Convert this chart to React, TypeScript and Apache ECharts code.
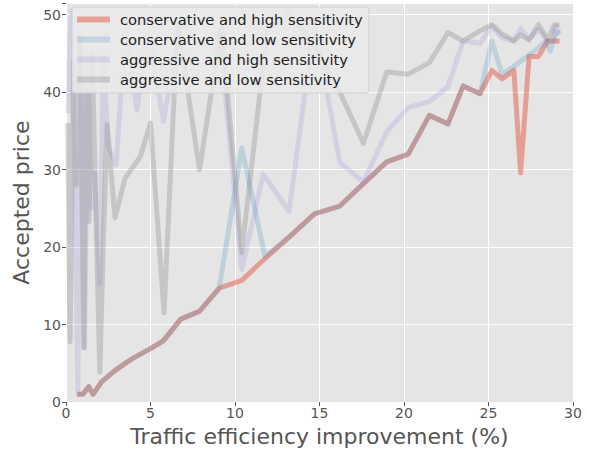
import React, { useEffect, useRef } from "react";
import * as echarts from "echarts";

const seriesNames = [
  "conservative and high sensitivity",
  "conservative and low sensitivity",
  "aggressive and high sensitivity",
  "aggressive and low sensitivity",
];

const xTicks = [0, 5, 10, 15, 20, 25, 30];
const yTicks = [0, 10, 20, 30, 40, 50];

const consHighX = [0.67, 1.0, 1.35, 1.6, 2.1, 2.8, 3.5, 4.0, 5.0, 5.76, 6.79, 7.89, 9.07, 10.4, 11.67, 13.2, 14.7, 16.2, 17.6, 18.98, 20.25, 21.5, 22.6, 23.5, 24.5, 25.2, 25.8, 26.5, 26.9, 27.4, 27.95, 28.5, 29.2];
const consHighY = [1.0, 1.0, 2.0, 1.0, 2.6, 3.9, 5.0, 5.7, 6.9, 7.9, 10.7, 11.7, 14.7, 15.7, 18.3, 21.3, 24.3, 25.3, 28.2, 31.0, 32.0, 37.0, 35.9, 40.8, 39.8, 42.8, 41.7, 42.8, 29.6, 44.6, 44.6, 46.6, 46.6];

const consLowX = [0.67, 1.0, 1.35, 1.6, 2.1, 2.8, 3.5, 4.0, 5.0, 5.76, 6.79, 7.89, 9.07, 10.4, 11.77, 13.2, 14.7, 16.2, 17.6, 18.98, 20.25, 21.5, 22.6, 23.5, 24.5, 25.2, 25.8, 26.5, 26.9, 27.4, 27.95, 28.4, 28.65, 29.0, 29.2];
const consLowY = [1.0, 1.0, 2.0, 1.0, 2.6, 3.9, 5.0, 5.7, 6.9, 7.9, 10.7, 11.7, 14.7, 32.8, 18.8, 21.3, 24.3, 25.3, 28.2, 31.0, 32.0, 37.0, 35.9, 40.8, 39.8, 46.6, 42.3, 43.3, 44.0, 44.8, 45.7, 46.6, 45.3, 47.8, 47.6];

const aggHighX = [0.1, 0.3, 0.5, 0.7, 0.9, 1.1, 1.3, 1.5, 1.7, 2.0, 2.2, 2.5, 2.96, 3.5, 4.2, 4.9, 5.76, 6.8, 7.9, 9.07, 10.4, 11.67, 13.2, 14.7, 16.2, 17.6, 18.98, 20.25, 21.5, 22.6, 23.5, 24.5, 25.2, 25.8, 26.5, 26.9, 27.4, 27.95, 28.5, 28.8, 29.0, 29.2];
const aggHighY = [37.3, 50.5, 33.0, 1.0, 46.0, 7.0, 44.0, 25.0, 29.5, 15.2, 45.0, 33.0, 30.6, 48.0, 37.7, 48.0, 36.2, 49.0, 46.0, 48.0, 17.1, 29.4, 24.6, 49.0, 30.9, 28.4, 34.9, 38.0, 38.8, 40.7, 46.6, 46.3, 48.5, 47.0, 46.6, 48.2, 46.9, 48.1, 46.6, 46.6, 48.5, 47.4];

const aggLowX = [0.1, 0.24, 0.45, 0.6, 0.85, 1.05, 1.2, 1.36, 1.55, 1.72, 2.0, 2.2, 2.43, 2.9, 3.5, 4.4, 5.0, 5.8, 6.6, 7.9, 9.2, 10.4, 11.9, 13.2, 14.7, 16.2, 17.6, 18.98, 20.25, 21.5, 22.6, 23.5, 24.5, 25.2, 25.8, 26.5, 26.9, 27.4, 27.95, 28.5, 28.9, 29.2];
const aggLowY = [36.0, 7.8, 44.0, 28.0, 47.0, 7.0, 40.0, 23.3, 45.0, 29.0, 3.9, 20.0, 35.8, 23.8, 28.9, 31.7, 36.0, 11.5, 49.0, 30.0, 48.5, 19.3, 48.0, 50.2, 46.0, 40.0, 33.4, 42.6, 42.3, 43.8, 47.7, 46.6, 47.9, 48.7, 47.5, 46.6, 47.4, 46.7, 48.7, 46.8, 48.7, 48.7];

const seriesColors = [
  "rgba(226,74,51,0.45)",
  "rgba(52,138,189,0.22)",
  "rgba(152,142,213,0.22)",
  "rgba(119,119,119,0.28)",
];

const zip = (xs: number[], ys: number[]) => xs.map((x, i) => [x, ys[i]]);

const FONT = "DejaVu Sans";

export default function App() {
  const ref = useRef<HTMLDivElement>(null);
  useEffect(() => {
    const chart = echarts.init(ref.current!, null, { renderer: "svg" });
    const datas = [
      zip(consHighX, consHighY),
      zip(consLowX, consLowY),
      zip(aggHighX, aggHighY),
      zip(aggLowX, aggLowY),
    ];
    chart.setOption({
      animation: false,
      backgroundColor: "#ffffff",
      textStyle: { fontFamily: FONT },
      grid: {
        left: 66,
        right: 17,
        top: 3,
        bottom: 49.5,
        show: true,
        backgroundColor: "#E5E5E5",
        borderWidth: 0,
      },
      legend: {
        orient: "vertical",
        left: 72,
        top: 7,
        icon: "rect",
        itemWidth: 33,
        itemHeight: 6,
        itemGap: 3,
        padding: [4, 6, 5, 5],
        backgroundColor: "rgba(234,234,234,0.85)",
        borderColor: "rgba(204,204,204,0.8)",
        borderWidth: 1,
        borderRadius: 3,
        textStyle: {
          fontFamily: FONT,
          fontSize: 14.7,
          color: "#222",
          lineHeight: 17,
          padding: [0, 0, 0, 5],
        },
        data: seriesNames,
      },
      xAxis: {
        type: "value",
        min: xTicks[0],
        max: xTicks[xTicks.length - 1],
        interval: 5,
        axisLine: { show: false },
        axisTick: { show: true, length: 4, lineStyle: { color: "#555" } },
        axisLabel: { color: "#555", fontSize: 14, margin: 4, fontFamily: FONT },
        splitLine: { show: true, lineStyle: { color: "#ffffff", width: 1 } },
        name: "Traffic efficiency improvement (%)",
        nameLocation: "middle",
        nameGap: 21,
        nameTextStyle: { fontSize: 22, color: "#555", fontFamily: FONT },
      },
      yAxis: {
        type: "value",
        min: yTicks[0],
        max: 51.5,
        interval: 10,
        axisLine: { show: false },
        axisTick: { show: true, length: 4, lineStyle: { color: "#555" } },
        axisLabel: {
          color: "#555",
          fontSize: 14,
          margin: 5,
          fontFamily: FONT,
          formatter: (v: number) => (yTicks.includes(v) ? String(v) : ""),
        },
        splitLine: { show: true, lineStyle: { color: "#ffffff", width: 1 } },
        name: "Accepted price",
        nameLocation: "middle",
        nameGap: 31,
        nameTextStyle: { fontSize: 22, color: "#555", fontFamily: FONT },
      },
      series: seriesNames.map((name, i) => ({
        name,
        type: "line",
        data: datas[i],
        showSymbol: false,
        symbol: "none",
        itemStyle: { color: seriesColors[i] },
        lineStyle: { color: seriesColors[i], width: 5, join: "round", cap: "butt" },
        emphasis: { disabled: true },
      })),
    });
    return () => chart.dispose();
  }, []);
  return (
    <div
      ref={ref}
      style={{ position: "fixed", left: 0, top: 0, width: 590, height: 452 }}
    />
  );
}
